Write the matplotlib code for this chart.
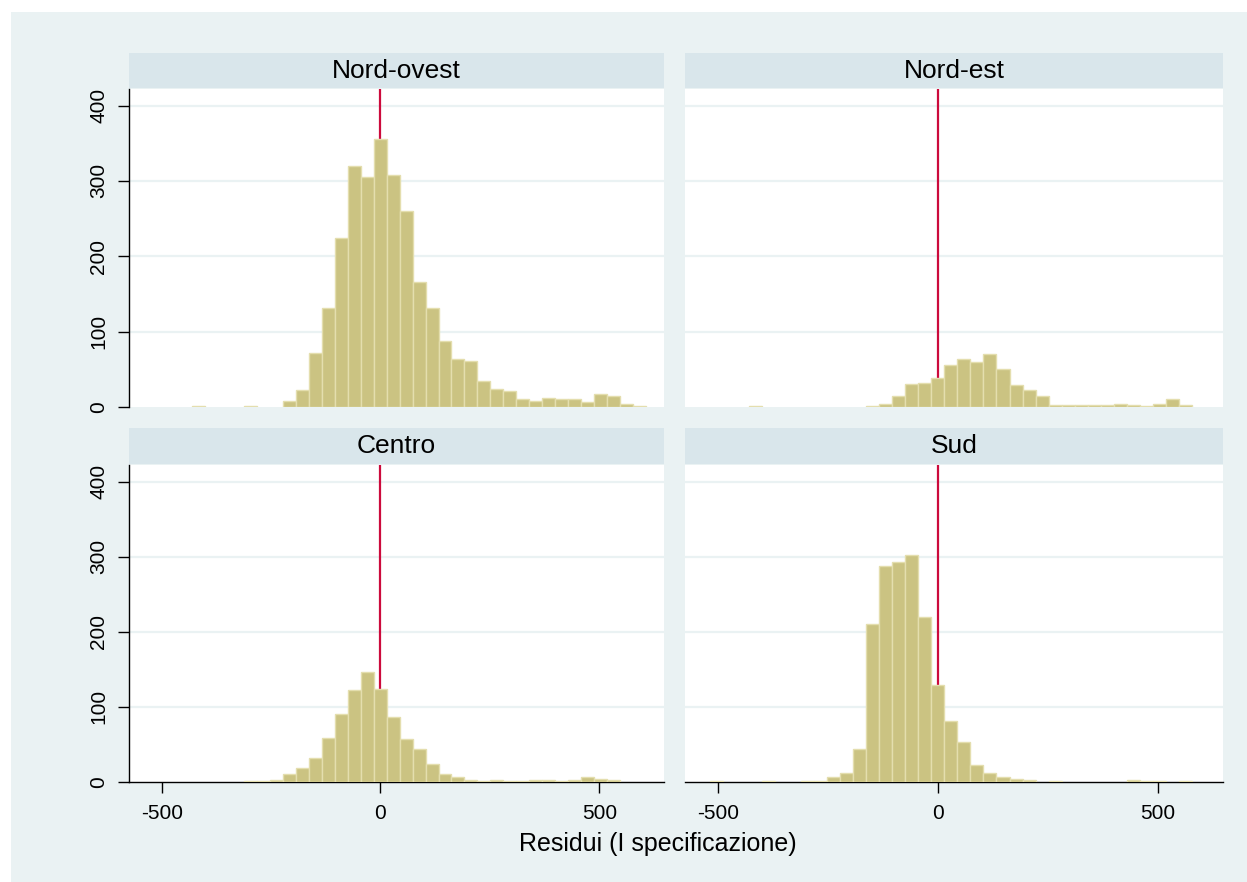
import numpy as np
import matplotlib
matplotlib.use("Agg")
import matplotlib.pyplot as plt
from matplotlib.patches import Rectangle

plt.rcParams['font.family'] = ['Liberation Sans', 'DejaVu Sans']

# histogram bins (common to all panels)
bin_start = -519.2
bin_width = 29.63
n_bins = 38

regions = ["Nord-ovest", "Nord-est", "Centro", "Sud"]

# frequencies per bin
nord_ovest = [0, 0, 0, 1, 0, 0, 0, 1, 0, 0,
              8, 23, 72, 131, 224, 320, 305, 356, 308, 260,
              166, 131, 88, 64, 61, 35, 24, 21, 10, 8,
              12, 10, 10, 6, 17, 14, 4, 1]
nord_est = [0, 0, 0, 1, 0, 0, 0, 0, 0, 0,
            0, 0, 1, 4, 15, 30, 32, 38, 56, 64,
            60, 70, 50, 29, 23, 15, 2, 2, 2, 3,
            3, 4, 2, 1, 4, 11, 2, 0]
centro = [0, 0, 0, 0, 0, 0, 0, 1, 1, 3,
          10, 19, 32, 59, 91, 123, 147, 124, 87, 57,
          44, 24, 11, 7, 2, 1, 3, 1, 1, 2,
          2, 1, 3, 7, 4, 3, 0, 0]
sud = [1, 0, 0, 0, 1, 0, 0, 1, 1, 7,
       12, 44, 210, 287, 293, 302, 219, 129, 81, 53,
       22, 12, 7, 4, 2, 0, 1, 0, 0, 0,
       0, 0, 2, 1, 1, 0, 1, 0]
counts = [nord_ovest, nord_est, centro, sud]

x_ticks = [-500, 0, 500]
y_ticks = [0, 100, 200, 300, 400]
x_label = "Residui (I specificazione)"

W, H = 1247, 882
BG = '#EAF2F3'
STRIP = '#D9E6EB'
BAR = '#CBC382'
BAR_EDGE = '#E4DEAE'
RED = '#CC0A3C'

fig = plt.figure(figsize=(W / 100, H / 100), dpi=100)
fig.patch.set_facecolor('white')
fig.add_artist(Rectangle((11 / W, 0), 1 - 11 / W, 1 - 12 / H,
                         transform=fig.transFigure, facecolor=BG,
                         edgecolor='none', zorder=0))

# panel boxes in pixels: left, right, top, bottom (plot region), strip top
boxes = [(129.3, 663.6, 89, 407, 53),
         (685.4, 1222.9, 89, 407, 53),
         (129.3, 663.6, 465, 782, 428),
         (685.4, 1222.9, 465, 782, 428)]

lefts = bin_start + bin_width * np.arange(n_bins)

for i, (l, r, t, b, st) in enumerate(boxes):
    ax = fig.add_axes([l / W, 1 - b / H, (r - l) / W, (b - t) / H])
    ax.set_facecolor('white')
    ax.set_xlim(-574, 647)
    ax.set_ylim(0, 422)
    for y in y_ticks[1:]:
        ax.axhline(y, color=BG, lw=1.6, zorder=1)
    ax.axvline(0, color=RED, lw=1.6, zorder=2)
    c = np.array(counts[i], dtype=float)
    m = c > 0
    ax.bar(lefts[m], c[m], width=bin_width, align='edge', color=BAR,
           edgecolor=BAR_EDGE, linewidth=1.0, zorder=3)

    for s in ax.spines.values():
        s.set_visible(False)
    row, col = divmod(i, 2)
    if col == 0:
        ax.spines['left'].set_visible(True)
        ax.spines['left'].set_linewidth(1.0)
        ax.set_yticks(y_ticks)
        ax.set_yticklabels([str(v) for v in y_ticks], rotation=90,
                           va='center', fontsize=15)
        ax.tick_params(axis='y', length=8, width=1.0, pad=7)
    else:
        ax.set_yticks([])
    if row == 1:
        ax.spines['bottom'].set_visible(True)
        ax.spines['bottom'].set_linewidth(1.0)
        ax.set_xticks(x_ticks)
        ax.set_xticklabels([str(v) for v in x_ticks], fontsize=15)
        ax.tick_params(axis='x', length=8, width=1.0, pad=8)
    else:
        ax.set_xticks([])

    # title strip
    fig.add_artist(Rectangle((l / W, 1 - (t - 1) / H), (r - l) / W,
                             (t - 1 - st) / H, transform=fig.transFigure,
                             facecolor=STRIP, edgecolor='none', zorder=1))
    fig.text((l + r) / 2 / W, 1 - (st + t - 1) / 2 / H, regions[i],
             ha='center', va='center', fontsize=19)

fig.text(657.5 / W, 1 - 844 / H, x_label, ha='center', va='center',
         fontsize=18)

fig.savefig('out.png', dpi=100, facecolor=fig.get_facecolor())
